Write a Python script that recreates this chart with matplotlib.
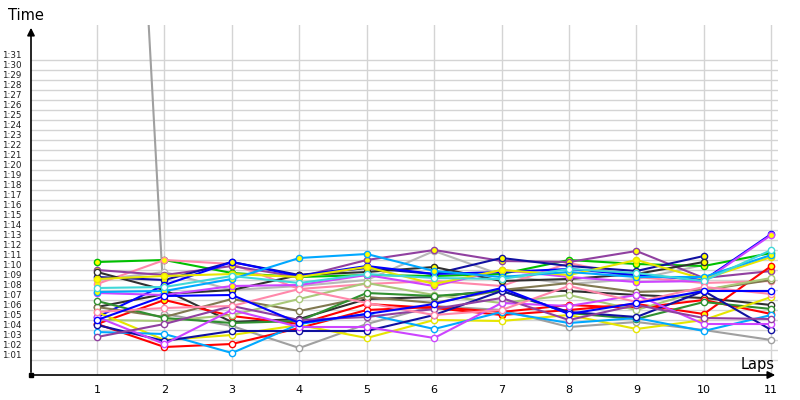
import numpy as np
import matplotlib.pyplot as plt
import matplotlib.transforms as mtransforms

plt.rcParams['font.family'] = ['DejaVu Sans']

laps = [1, 2, 3, 4, 5, 6, 7, 8, 9, 10, 11]

# lap times in seconds, one list per driver (None = no lap)
green_y      = [70.8, 71.0, 69.7, 69.3, 69.5, 69.4, 69.6, 71.0, 70.6, 70.4, 71.7]
pink_y       = [68.6, 71.0, 70.6, 68.1, 68.6, 68.9, 68.4, 70.7, 69.3, 68.7, 68.9]
purple_y     = [70.0, 69.5, 70.4, 69.3, 71.0, 72.0, 70.9, 70.8, 71.9, 69.2, 69.9]
navy_y       = [69.3, 69.0, 70.8, 69.5, 70.2, 69.6, 71.2, 70.4, 69.9, 71.4, None]
black_y      = [66.3, 67.6, 68.0, 69.5, 69.8, 70.3, 68.9, 69.1, 69.6, 70.8, None]
black_w      = [69.8, 68.0, 64.8, 65.1, 67.1, 67.3, 68.0, 67.9, 67.5, 67.2, 66.5]
blue_y       = [65.3, 68.5, 70.8, 69.4, 70.4, 69.6, 69.8, 70.1, 69.5, 69.0, 73.6]
violet_y     = [67.7, 67.5, 68.4, 68.5, 69.5, 68.4, 70.0, 69.3, 68.8, 68.9, 73.5]
yellow_y     = [69.1, 69.4, 69.6, 69.3, 70.3, 68.6, 70.0, 69.5, 71.0, 69.1, 71.3]
lightblue_y  = [67.8, 67.9, 69.1, 71.2, 71.6, 69.9, 69.3, 69.8, 69.3, 69.3, 71.5]
cyan_w       = [68.2, 68.3, 69.4, 68.7, 69.6, 69.2, 69.1, 70.1, 69.7, 68.9, 72.0]
gray_w       = [189.0, 65.6, 64.4, 62.2, 64.6, 66.4, 66.0, 64.3, 64.8, 64.0, 63.0]
lightgray_w  = [69.0, 69.8, 68.0, 68.4, 69.0, 71.9, 69.5, 68.6, 69.1, 70.5, None]
red_y        = [64.6, 67.0, 65.4, 64.6, 66.6, 66.2, 65.5, 66.0, 66.6, 65.6, 70.4]
red_w        = [64.6, 62.3, 62.6, 64.2, 66.0, 66.3, 65.8, 66.5, 66.2, 67.0, 65.6]
olive_w      = [66.3, 65.3, 67.1, 65.9, 67.3, 66.7, 68.0, 68.7, 67.8, 68.0, 69.0]
lightolive_w = [65.0, 64.9, 65.5, 67.1, 68.7, 67.5, 66.7, 67.5, 66.0, 68.0, 69.2]
darkgreen_w  = [66.9, 65.2, 64.7, 64.9, 67.7, 67.4, 67.9, 65.7, 65.1, 66.8, 66.1]
yellow_w     = [65.8, 63.0, 63.5, 64.5, 63.2, 65.0, 64.9, 65.5, 64.1, 65.0, 67.3]
lightblue_w  = [63.8, 63.6, 61.7, 64.6, 65.6, 64.1, 65.8, 64.7, 65.2, 63.9, 65.5]
navy_w       = [64.5, 62.9, 63.9, 63.9, 63.9, 65.5, 67.9, 65.8, 65.3, 67.9, 64.0]
violet_w     = [65.3, 62.6, 66.0, 64.3, 64.3, 63.2, 66.7, 66.4, 67.5, 64.6, 64.6]
purple_w     = [63.3, 64.6, 66.4, 65.0, 65.3, 66.1, 67.2, 65.0, 66.5, 65.2, 65.1]
pink_w       = [65.8, 66.2, 66.4, 68.1, 66.7, 65.5, 66.0, 68.4, 66.8, 68.3, 67.6]
blue_w       = [65.0, 67.4, 67.5, 64.7, 65.6, 66.6, 68.2, 65.6, 66.7, 67.9, 67.9]

series = [
    (gray_w, '#a0a0a0', 'w'), (lightgray_w, '#b8b8b8', 'w'),
    (green_y, '#00c000', 'y'), (pink_y, '#ff88aa', 'y'), (purple_y, '#9040a0', 'y'),
    (navy_y, '#1010a0', 'y'), (black_y, '#303030', 'y'), (black_w, '#303030', 'w'),
    (blue_y, '#0000ff', 'y'), (violet_y, '#cc44ff', 'y'), (yellow_y, '#e6e600', 'y'),
    (lightblue_y, '#00a8ff', 'y'), (cyan_w, '#40d8d8', 'w'),
    (red_y, '#ff0000', 'y'), (red_w, '#ff0000', 'w'), (olive_w, '#807850', 'w'),
    (lightolive_w, '#a8c878', 'w'), (darkgreen_w, '#309030', 'w'),
    (yellow_w, '#e6e600', 'w'), (lightblue_w, '#00a8ff', 'w'), (navy_w, '#1010a0', 'w'),
    (violet_w, '#cc44ff', 'w'), (purple_w, '#9040a0', 'w'), (pink_w, '#ff88aa', 'w'),
    (blue_w, '#0000ff', 'w'),
]

fig = plt.figure(figsize=(8, 4), dpi=100)
ax = fig.add_axes([31/800, 25/400, 747/800, 350/400])
ax.set_xlim(0.02, 11.1)
ax.set_ylim(59.5, 94.5)

for s in ax.spines.values():
    s.set_visible(False)

# grid
for t in range(61, 92):
    ax.axhline(t, color='#d4d4d4', lw=1, zorder=0)
for l in laps:
    ax.axvline(l, color='#d4d4d4', lw=1, zorder=0)

for vals, col, fill in series:
    y = np.array([np.nan if v is None else v for v in vals])
    face = '#ffff00' if fill == 'y' else 'white'
    ax.plot(laps, y, color=col, lw=1.5, marker='o', ms=4.5, mfc=face, mec=col, mew=1.0,
            zorder=2, clip_on=True)

# axes with arrows
ax.annotate('', xy=(1.0, 0), xytext=(0, 0), xycoords='axes fraction',
            arrowprops=dict(arrowstyle='-|>', color='black', lw=1.2, mutation_scale=11))
ax.annotate('', xy=(0, 1.0), xytext=(0, 0), xycoords='axes fraction',
            arrowprops=dict(arrowstyle='-|>', color='black', lw=1.2, mutation_scale=11))
ax.plot([0], [0], marker='s', ms=3, color='black', transform=ax.transAxes, clip_on=False)

ax.set_xticks(laps)
ax.set_xticklabels([str(l) for l in laps], fontsize=8)
ytk = list(range(61, 92))
ax.set_yticks(ytk)
ax.set_yticklabels(['1:%02d' % (t - 60) for t in ytk], fontsize=6.3, color='#202020')
ax.tick_params(axis='x', length=0, pad=7)
ax.tick_params(axis='y', length=0, pad=7)
offset = mtransforms.ScaledTranslation(0, 5/100, fig.dpi_scale_trans)
for lab in ax.get_yticklabels():
    lab.set_transform(lab.get_transform() + offset)

fig.text(8/800, 1 - 16/400, 'Time', fontsize=10.5, va='center', ha='left')
fig.text(775/800, 1 - 365/400, 'Laps', fontsize=10.5, va='center', ha='right')

plt.savefig('out.png', dpi=100)
